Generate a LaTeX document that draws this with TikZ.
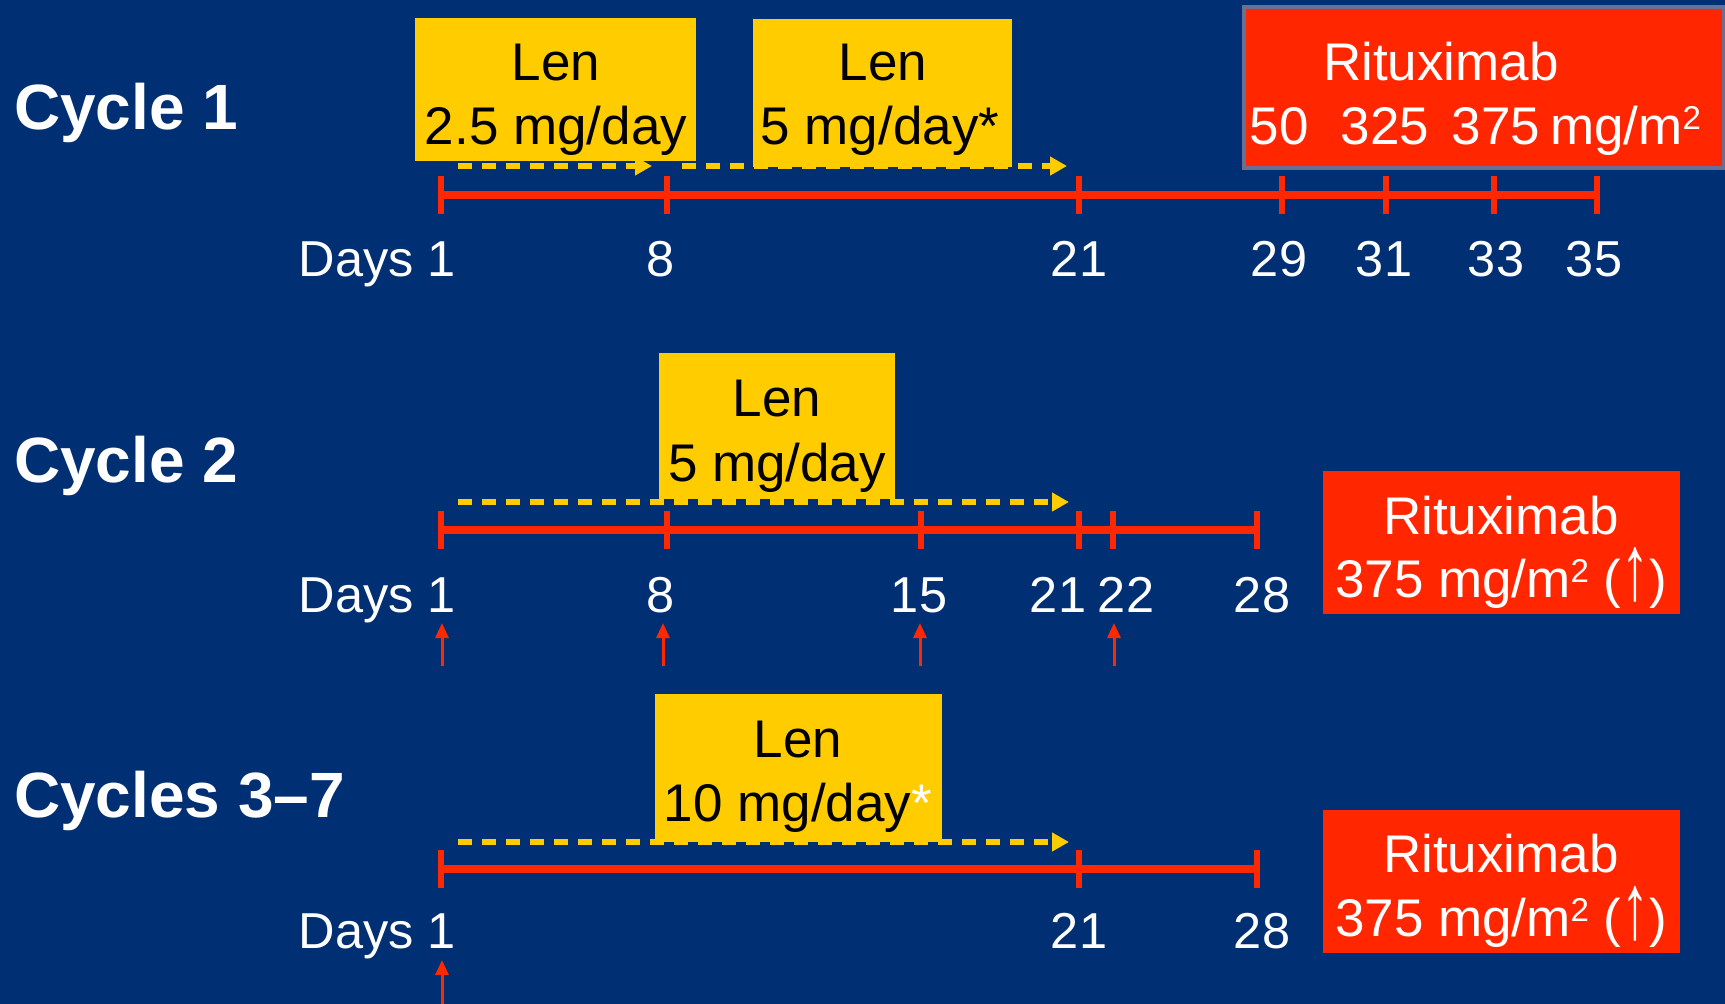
\documentclass[tikz,border=0pt]{standalone}
\usepackage{fontspec}
\usepackage{graphicx}
\setmainfont{Liberation Sans}
\usetikzlibrary{arrows.meta}

\definecolor{bg}{RGB}{0,48,115}
\definecolor{lenyellow}{RGB}{255,204,0}
\definecolor{ritured}{RGB}{255,38,0}
\definecolor{axisred}{RGB}{255,40,0}
\definecolor{framegrey}{RGB}{105,112,145}

% square metres with a raised 2, and a tall up arrow
\newcommand{\sqm}{mg/m\raisebox{0.28em}{\fontsize{33}{33}\selectfont 2}}
\newcommand{\tallup}{\raisebox{-0.05em}{\scalebox{1.05}[1.75]{↑}}}

\begin{document}
\begin{tikzpicture}[x=1pt,y=-1pt,
  cyclelabel/.style={anchor=base west, inner sep=0pt, text=white,
    font=\fontsize{64}{70}\selectfont\bfseries},
  daylabel/.style={anchor=base, inner sep=0pt, text=white,
    font=\fontsize{50.5}{56}\selectfont},
  boxtext/.style={anchor=base, inner sep=0pt, font=\fontsize{53}{58}\selectfont},
  lentext/.style={boxtext, text=black},
  ritutext/.style={boxtext, text=white},
  lenbox/.style={fill=lenyellow, draw=none, inner sep=0pt, anchor=north west},
  rixbox/.style={fill=ritured, draw=none, inner sep=0pt, anchor=north west},
  axis/.style={draw=axisred, line width=8.5pt},
  tick/.style={draw=axisred, line width=5.5pt},
  lenarrow/.style={draw=lenyellow, line width=6.3pt, dash pattern=on 13.5pt off 10.5pt,
    -{Triangle[length=17pt,width=18pt]}},
  infusion/.style={draw=axisred, line width=3pt, -{Triangle[length=15pt,width=13pt]}}
]
% background
\fill[bg] (0,0) rectangle (1725,1004);
\useasboundingbox (0,0) rectangle (1725,1004);

%% ---------------- Cycle 1 ----------------
\node[cyclelabel] (cyc1) at (14,129) {Cycle 1};

\node[lenbox, minimum width=281pt, minimum height=143pt] (c1lenA) at (415,18) {};
\node[lentext] (c1lenAa) at (556,80) {Len};
\node[lentext] (c1lenAb) at (556,144) {2.5 mg/day};

\node[lenbox, minimum width=259pt, minimum height=148pt] (c1lenB) at (753,19) {};
\node[lentext] (c1lenBa) at (883,80) {Len};
\node[lentext] (c1lenBb) at (880,144) {5 mg/day*};

\node[rixbox, draw=framegrey, line width=4pt, minimum width=480pt, minimum height=161pt] (c1rix) at (1242,5) {};
\node[ritutext] (c1rixa) at (1441,80) {Rituximab};
\node[ritutext] (c1rix50) at (1279,144) {50};
\node[ritutext] (c1rix325) at (1385,144) {325};
\node[ritutext] (c1rix375) at (1496,144) {375};
\node[ritutext, anchor=base west] (c1rixu) at (1550,144) {\sqm};

\coordinate (c1s1) at (458,166);
\coordinate (c1e1) at (652,166);
\coordinate (c1s2) at (682,166);
\coordinate (c1e2) at (1067,166);
\draw[lenarrow] (c1s1) -- (c1e1);
\draw[lenarrow] (c1s2) -- (c1e2);

\foreach \n/\x in {1/441, 8/667, 21/1079, 29/1282, 31/1386, 33/1494, 35/1597}
  \coordinate (c1d\n) at (\x,195);
\draw[axis] (c1d1) -- (c1d35);
\foreach \n in {1,8,21,29,31,33,35}
  \draw[tick] ([yshift=19pt]c1d\n) -- ([yshift=-19pt]c1d\n);

\node[daylabel, anchor=base east] (c1l1) at (456,276) {Days 1};
\node[daylabel] (c1l8) at (661,276) {8};
\node[daylabel] (c1l21) at (1079,276) {21};
\node[daylabel] (c1l29) at (1279,276) {29};
\node[daylabel] (c1l31) at (1384,276) {31};
\node[daylabel] (c1l33) at (1496,276) {33};
\node[daylabel] (c1l35) at (1594,276) {35};

%% ---------------- Cycle 2 ----------------
\node[cyclelabel] (cyc2) at (14,482) {Cycle 2};

\node[lenbox, minimum width=236pt, minimum height=146pt] (c2len) at (659,353) {};
\node[lentext] (c2lena) at (777,416) {Len};
\node[lentext] (c2lenb) at (777,481) {5 mg/day};

\coordinate (c2s) at (458,502);
\coordinate (c2e) at (1069,502);
\draw[lenarrow] (c2s) -- (c2e);

\foreach \n/\x in {1/441, 8/667, 15/921, 21/1079, 22/1113, 28/1257}
  \coordinate (c2d\n) at (\x,530);
\draw[axis] (c2d1) -- (c2d28);
\foreach \n in {1,8,15,21,22,28}
  \draw[tick] ([yshift=19pt]c2d\n) -- ([yshift=-19pt]c2d\n);

\node[daylabel, anchor=base east] (c2l1) at (456,612) {Days 1};
\node[daylabel] (c2l8) at (661,612) {8};
\node[daylabel] (c2l15) at (919,612) {15};
\node[daylabel] (c2l21) at (1058,612) {21};
\node[daylabel] (c2l22) at (1126,612) {22};
\node[daylabel] (c2l28) at (1262,612) {28};

\foreach \n/\x in {1/442, 8/663, 15/920, 22/1114} {
  \coordinate (c2a\n) at (\x,666);
  \coordinate (c2t\n) at (\x,623);
  \draw[infusion] (c2a\n) -- (c2t\n);
}

\node[rixbox, minimum width=357pt, minimum height=143pt] (c2rix) at (1323,471) {};
\node[ritutext] (c2rixa) at (1501,534) {Rituximab};
\node[ritutext] (c2rixb) at (1501,597) {375 \sqm\ (\tallup)};

%% ---------------- Cycles 3-7 ----------------
\node[cyclelabel] (cyc3) at (14,817) {Cycles 3--7};

\node[lenbox, minimum width=287pt, minimum height=148pt] (c3len) at (655,694) {};
\node[lentext] (c3lena) at (798,757) {Len};
\node[lentext] (c3lenb) at (798,821) {10 mg/day\textcolor{white}{*}};

\coordinate (c3s) at (458,842);
\coordinate (c3e) at (1069,842);
\draw[lenarrow] (c3s) -- (c3e);

\foreach \n/\x in {1/441, 21/1079, 28/1257}
  \coordinate (c3d\n) at (\x,869);
\draw[axis] (c3d1) -- (c3d28);
\foreach \n in {1,21,28}
  \draw[tick] ([yshift=19pt]c3d\n) -- ([yshift=-19pt]c3d\n);

\node[daylabel, anchor=base east] (c3l1) at (456,948) {Days 1};
\node[daylabel] (c3l21) at (1079,948) {21};
\node[daylabel] (c3l28) at (1262,948) {28};

\coordinate (c3a1) at (442,1006);
\coordinate (c3t1) at (442,960);
\draw[infusion] (c3a1) -- (c3t1);

\node[rixbox, minimum width=357pt, minimum height=143pt] (c3rix) at (1323,810) {};
\node[ritutext] (c3rixa) at (1501,872) {Rituximab};
\node[ritutext] (c3rixb) at (1501,936) {375 \sqm\ (\tallup)};
\end{tikzpicture}
\end{document}
